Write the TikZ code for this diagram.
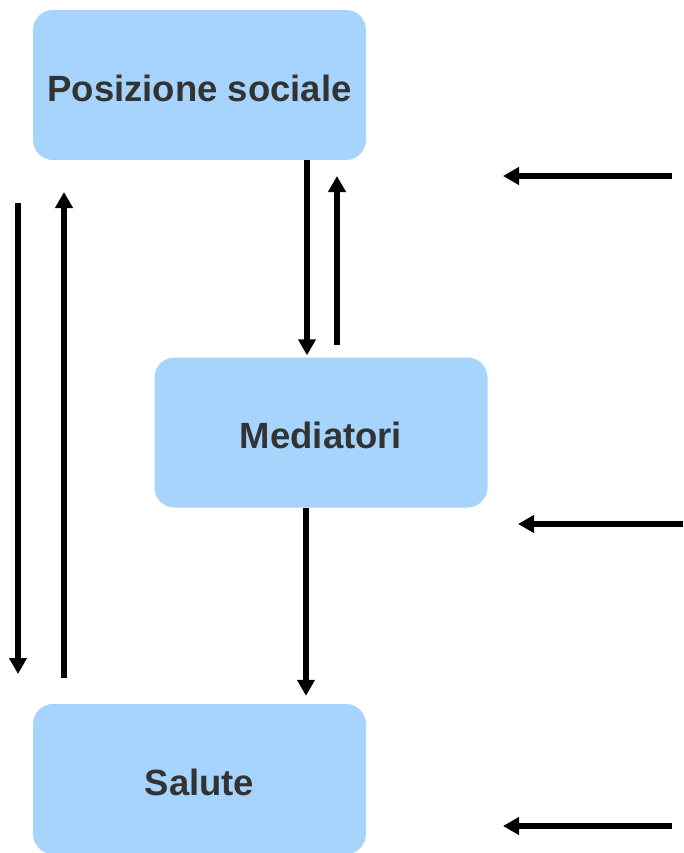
\documentclass[tikz,border=0pt]{standalone}
\usepackage{fontspec}
\setmainfont{Liberation Sans}
\usetikzlibrary{arrows.meta}
\definecolor{boxblue}{RGB}{166,212,253}
\definecolor{txtgray}{RGB}{51,51,51}
\begin{document}
\begin{tikzpicture}[x=1pt,y=-1pt,
  box/.style={fill=boxblue,draw=none,rounded corners=20pt,minimum width=333pt,minimum height=150pt,
    inner sep=0pt,text height=32.6pt,text depth=0pt,font=\fontsize{36.5}{40}\selectfont\bfseries,text=txtgray},
  arr/.style={line width=5.8pt,-{Triangle[width=17pt,length=16pt]}}]
\useasboundingbox (0,0) rectangle (683,853);
\node[box] (pos) at (199.5,85) {Posizione sociale};
\node[box] (med) at (321,432.5) {Mediatori};
\node[box] (sal) at (199.5,779) {Salute};
% free ends
\coordinate (l1s) at (18,203);
\coordinate (l1e) at (18,674);
\coordinate (l2s) at (64,678);
\coordinate (l2e) at (64,192);
\coordinate (r1s) at (672,176);
\coordinate (r1e) at (503,176);
\coordinate (r2s) at (683,524);
\coordinate (r2e) at (518,524);
\coordinate (r3s) at (672,826);
\coordinate (r3e) at (503,826);
\coordinate (ups) at (337,345);
\coordinate (upe) at (337,176);
% connectors
\draw[arr] (pos.south -| 307,0) -- ([yshift=2pt]med.north -| 307,0);
\draw[arr] (ups) -- (upe);
\draw[arr] (med.south -| 306,0) -- ([yshift=8pt]sal.north -| 306,0);
\draw[arr] (l1s) -- (l1e);
\draw[arr] (l2s) -- (l2e);
\draw[arr] (r1s) -- (r1e);
\draw[arr] (r2s) -- (r2e);
\draw[arr] (r3s) -- (r3e);
\end{tikzpicture}
\end{document}
